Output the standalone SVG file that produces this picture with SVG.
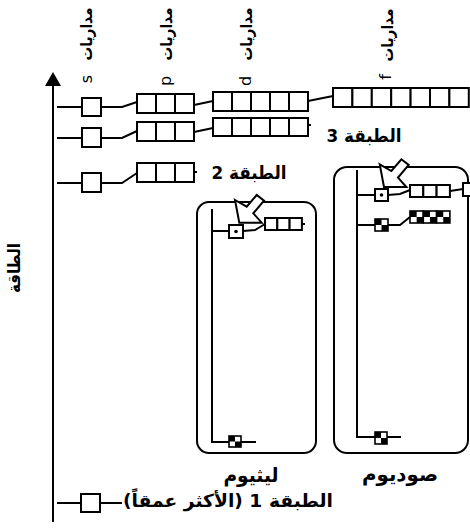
<svg xmlns="http://www.w3.org/2000/svg" width="470" height="528" viewBox="0 0 470 528">
<style>
.c{fill:#fff;stroke:#000;stroke-width:2}
.k{fill:url(#chk);stroke:#000;stroke-width:1.6}
.ln{fill:none;stroke:#000;stroke-width:2}
.fr{fill:none;stroke:#000;stroke-width:2}
.ar{fill:#fff;stroke:#000;stroke-width:2;stroke-linejoin:miter}
.t{font-family:"DejaVu Sans",sans-serif;fill:#000;font-size:18px;font-weight:bold}
.w{font-family:"DejaVu Sans",sans-serif;fill:#000;font-size:16px;font-weight:bold}
.e{font-family:"DejaVu Sans",sans-serif;fill:#000;font-size:17px;font-weight:bold}
.v{font-family:"DejaVu Sans",sans-serif;fill:#000;font-size:16px}
.n{font-family:"DejaVu Sans",sans-serif;fill:#000;font-size:20px;font-weight:bold}
</style>
<defs>
<pattern id="chk" width="1" height="1" patternContentUnits="objectBoundingBox">
<rect x="0" y="0" width="1" height="1" fill="#fff"/>
<rect x="0" y="0" width="0.5" height="0.5" fill="#000"/>
<rect x="0.5" y="0.5" width="0.5" height="0.5" fill="#000"/>
</pattern>
</defs>

<g id="axis">
<line x1="53" y1="84" x2="53" y2="522" class="ln"/>
<polygon points="53,72 45,86 61,86" fill="#000"/>
<text class="e" transform="translate(20,268) rotate(-90)" text-anchor="middle" direction="rtl" textLength="50" lengthAdjust="spacingAndGlyphs">الطاقة</text>
</g>

<g id="labels">
<text class="w" transform="translate(92,34) rotate(-90)" text-anchor="middle" textLength="53" lengthAdjust="spacingAndGlyphs">مداريات</text>
<text class="v" transform="translate(92,79) rotate(-90)" text-anchor="middle">s</text>
<text class="w" transform="translate(172,34) rotate(-90)" text-anchor="middle" textLength="53" lengthAdjust="spacingAndGlyphs">مداريات</text>
<text class="v" transform="translate(171,81) rotate(-90)" text-anchor="middle">p</text>
<text class="w" transform="translate(252,34) rotate(-90)" text-anchor="middle" textLength="53" lengthAdjust="spacingAndGlyphs">مداريات</text>
<text class="v" transform="translate(251,81) rotate(-90)" text-anchor="middle">d</text>
<text class="w" transform="translate(393,35) rotate(-90)" text-anchor="middle" textLength="53" lengthAdjust="spacingAndGlyphs">مداريات</text>
<text class="v" transform="translate(391,77) rotate(-90)" text-anchor="middle">f</text>
</g>

<g id="connectors">
<path class="ln" d="M57,107 H82 M101,107 H122 L137,102 M194,105 L213,101 M308,101 L333,96"/>
<path class="ln" d="M57,138 H82 M101,138 H122 L137,131 M194,132 L213,128 M308,125 h3"/>
<path class="ln" d="M57,183 H82 M101,183 H122 L137,173 M194,172 h3"/>
<path class="ln" d="M57,503 H81 M100,503 H122"/>
</g>

<g id="level4">
<rect class="c" x="82" y="98" width="19" height="18"/>
<rect class="c" x="137" y="94" width="19" height="19"/><rect class="c" x="156" y="94" width="19" height="19"/><rect class="c" x="175" y="94" width="19" height="19"/>
<rect class="c" x="213" y="92" width="19" height="19"/><rect class="c" x="232" y="92" width="19" height="19"/><rect class="c" x="251" y="92" width="19" height="19"/><rect class="c" x="270" y="92" width="19" height="19"/><rect class="c" x="289" y="92" width="19" height="19"/>
<rect class="c" x="333" y="88" width="19.4" height="19"/><rect class="c" x="352.4" y="88" width="19.4" height="19"/><rect class="c" x="371.8" y="88" width="19.4" height="19"/><rect class="c" x="391.2" y="88" width="19.4" height="19"/><rect class="c" x="410.6" y="88" width="19.4" height="19"/><rect class="c" x="430" y="88" width="19.4" height="19"/><rect class="c" x="449.4" y="88" width="19.4" height="19"/>
</g>

<g id="level3">
<rect class="c" x="82" y="128" width="19" height="19"/>
<rect class="c" x="137" y="122" width="19" height="19"/><rect class="c" x="156" y="122" width="19" height="19"/><rect class="c" x="175" y="122" width="19" height="19"/>
<rect class="c" x="213" y="118" width="19" height="18"/><rect class="c" x="232" y="118" width="19" height="18"/><rect class="c" x="251" y="118" width="19" height="18"/><rect class="c" x="270" y="118" width="19" height="18"/><rect class="c" x="289" y="118" width="19" height="18"/>
<text class="t" x="364" y="142" text-anchor="middle" direction="rtl" textLength="75" lengthAdjust="spacingAndGlyphs">الطبقة 3</text>
</g>

<g id="level2">
<rect class="c" x="82" y="173" width="19" height="19"/>
<rect class="c" x="137" y="163" width="19" height="19"/><rect class="c" x="156" y="163" width="19" height="19"/><rect class="c" x="175" y="163" width="19" height="19"/>
<text class="t" x="249" y="179" text-anchor="middle" direction="rtl" textLength="75" lengthAdjust="spacingAndGlyphs">الطبقة 2</text>
</g>

<g id="level1">
<rect class="c" x="81" y="494" width="19" height="18"/>
<text class="t" x="228" y="507" text-anchor="middle" direction="rtl" textLength="210" lengthAdjust="spacingAndGlyphs">الطبقة 1 (الأكثر عمقاً)</text>
</g>

<g id="lithium">
<rect class="fr" x="197" y="202" width="119" height="251" rx="12"/>
<path class="ln" d="M212,209 V442 H229 M241,442 H256 M212,231 H229 M243,231 L255,230 L265,224 M302,224 h3"/>
<rect class="k" x="229" y="436" width="12" height="11"/>
<rect class="c" x="229" y="225" width="14" height="13"/>
<circle cx="236" cy="231.5" r="1.8" fill="#000"/>
<rect class="c" x="265" y="218" width="12.3" height="12"/><rect class="c" x="277.3" y="218" width="12.3" height="12"/><rect class="c" x="289.6" y="218" width="12.3" height="12"/>
<polygon class="ar" points="235,200 246.7,206.7 256.7,195 264,200.7 253.3,213.3 261.7,222.7 239.3,222.7"/>
<text class="n" x="251" y="482" text-anchor="middle" direction="rtl" textLength="55" lengthAdjust="spacingAndGlyphs">ليثيوم</text>
</g>

<g id="sodium">
<rect class="fr" x="334" y="167" width="134" height="286" rx="13"/>
<path class="ln" d="M357,170 V437 H375 M387,437 H401 M357,195 H375 M388,195 L400,194 L410,190 M450,191 L463,189 M357,225 H375 M388,225 L400,225 L410,217"/>
<rect class="k" x="375" y="432" width="12" height="12"/>
<rect class="c" x="375" y="189" width="13" height="12"/>
<circle cx="381.5" cy="195" r="1.8" fill="#000"/>
<rect class="c" x="410" y="185" width="13.3" height="12"/><rect class="c" x="423.3" y="185" width="13.3" height="12"/><rect class="c" x="436.6" y="185" width="13.3" height="12"/>
<rect class="c" x="463" y="183" width="14" height="13"/>
<rect class="k" x="375" y="219" width="13" height="12"/>
<rect class="k" x="410" y="211" width="13.3" height="12"/><rect class="k" x="423.3" y="211" width="13.3" height="12"/><rect class="k" x="436.6" y="211" width="13.3" height="12"/>
<polygon class="ar" points="379.7,164.3 391.4,171 401.4,159.3 408.7,165 398,177.6 406.4,187 384,187"/>
<text class="n" x="400" y="481" text-anchor="middle" direction="rtl" textLength="76" lengthAdjust="spacingAndGlyphs">صوديوم</text>
</g>
</svg>
